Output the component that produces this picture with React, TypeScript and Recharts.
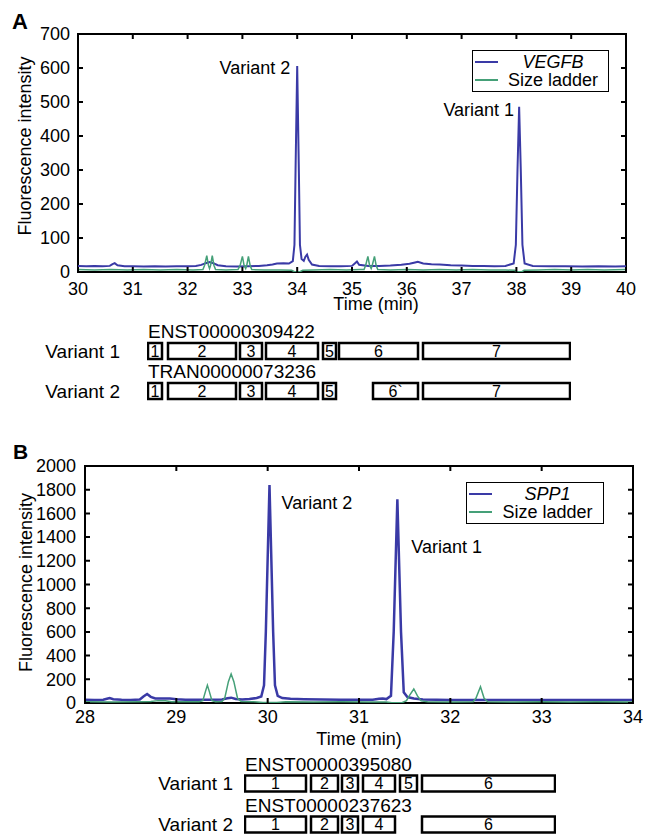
import React from 'react';
import {
  ComposedChart,
  Line,
  XAxis,
  YAxis,
  Legend,
  ReferenceDot,
  ReferenceArea,
  BarChart,
  Bar,
  LabelList
} from 'recharts';

const FONT = '"Liberation Sans", Arial, Helvetica, sans-serif';
const BLUE = '#3a3aa6';
const GREEN = '#45a078';
const FRAME = '#000';

// ---- panel A: VEGFB electropherogram, [time (min), fluorescence]
const vegfbTrace: [number, number][] = [
  [30.0, 18], [30.15, 17], [30.3, 18], [30.45, 17], [30.58, 18], [30.63, 23], [30.67, 26], [30.72, 20],
  [30.85, 17], [31.0, 17], [31.2, 16], [31.4, 17], [31.6, 16], [31.8, 17], [32.0, 17], [32.15, 18],
  [32.25, 21], [32.33, 26], [32.4, 29], [32.47, 26], [32.55, 20], [32.7, 17], [32.9, 16], [33.1, 17],
  [33.3, 18], [33.45, 20], [33.55, 22], [33.63, 25], [33.75, 26], [33.85, 25], [33.92, 32], [33.95, 80],
  [33.97, 300], [34.0, 606], [34.03, 300], [34.05, 80], [34.08, 38], [34.12, 33], [34.15, 45], [34.18, 51],
  [34.21, 36], [34.27, 22], [34.4, 18], [34.6, 17], [34.8, 17], [35.0, 18], [35.05, 25], [35.09, 31],
  [35.13, 21], [35.3, 18], [35.5, 18], [35.7, 19], [35.9, 21], [36.05, 24], [36.15, 28], [36.2, 30],
  [36.3, 25], [36.45, 23], [36.6, 22], [36.8, 20], [37.0, 19], [37.2, 18], [37.4, 18], [37.6, 17],
  [37.8, 18], [37.95, 25], [37.99, 80], [38.02, 300], [38.05, 486], [38.08, 300], [38.11, 80], [38.15, 25],
  [38.3, 18], [38.6, 17], [38.9, 17], [39.2, 16], [39.5, 17], [39.8, 16], [40.0, 17]
];
const ladderTraceA: [number, number][] = [
  [30.0, 7], [30.3, 6], [30.6, 7], [30.9, 6], [31.2, 7], [31.5, 6], [31.8, 7], [32.1, 6],
  [32.28, 7], [32.31, 20], [32.35, 48], [32.38, 20], [32.4, 10], [32.42, 20], [32.45, 48], [32.48, 20],
  [32.51, 7], [32.7, 6], [32.92, 7], [32.96, 20], [33.0, 46], [33.03, 20], [33.06, 10], [33.08, 20],
  [33.11, 46], [33.14, 20], [33.17, 7], [33.4, 6], [33.7, 6], [33.9, 5], [33.95, 1], [34.05, 1],
  [34.1, 5], [34.3, 6], [34.6, 7], [34.9, 6], [35.15, 7], [35.22, 7], [35.25, 20], [35.29, 46],
  [35.32, 20], [35.35, 10], [35.37, 20], [35.41, 46], [35.44, 20], [35.47, 7], [35.7, 6], [36.0, 7],
  [36.3, 6], [36.6, 7], [36.9, 6], [37.2, 7], [37.5, 6], [37.8, 6], [37.97, 5], [38.0, 1],
  [38.1, 1], [38.14, 5], [38.4, 6], [38.7, 7], [39.0, 6], [39.3, 7], [39.6, 6], [40.0, 7]
];
const timeTicksA = [30, 31, 32, 33, 34, 35, 36, 37, 38, 39, 40];
const intensityTicksA = [0, 100, 200, 300, 400, 500, 600, 700];
const peaksA = [
  { t: 34.0, v: 606, text: 'Variant 2' },
  { t: 38.05, v: 486, text: 'Variant 1' }
];

// VEGFB exon structure (diagram units)
const variantsA = ['Variant 1', 'Variant 2'];
const transcriptsA = ['ENST00000309422', 'TRAN00000073236'];
const exonsA1: [number, number][] = [[1, 15], [21, 89], [93, 115], [119, 171], [176, 189], [192, 271], [276, 423]];
const exonsA2: [number, number][] = [[1, 15], [21, 89], [93, 115], [119, 171], [176, 189], [226, 271], [276, 423]];
const exonNamesA1 = ['1', '2', '3', '4', '5', '6', '7'];
const exonNamesA2 = ['1', '2', '3', '4', '5', '6`', '7'];

// ---- panel B: SPP1 electropherogram
const spp1Trace: [number, number][] = [
  [28.0, 28], [28.1, 26], [28.2, 28], [28.24, 36], [28.27, 42], [28.31, 32], [28.4, 27], [28.5, 26],
  [28.6, 29], [28.64, 55], [28.68, 76], [28.72, 52], [28.77, 38], [28.85, 37], [28.93, 38], [29.0, 31],
  [29.1, 28], [29.2, 27], [29.3, 28], [29.4, 27], [29.5, 30], [29.56, 40], [29.6, 45], [29.65, 34],
  [29.72, 30], [29.8, 33], [29.88, 42], [29.93, 55], [29.96, 150], [29.98, 600], [30.02, 1840], [30.06, 600],
  [30.08, 150], [30.11, 60], [30.16, 42], [30.25, 36], [30.4, 32], [30.6, 30], [30.8, 28], [31.0, 27],
  [31.15, 28], [31.22, 35], [31.26, 38], [31.3, 33], [31.35, 60], [31.38, 600], [31.42, 1720], [31.46, 600],
  [31.49, 90], [31.53, 50], [31.6, 38], [31.7, 30], [31.85, 27], [32.0, 26], [32.2, 25], [32.4, 26],
  [32.6, 25], [32.8, 25], [33.0, 26], [33.2, 25], [33.4, 26], [33.6, 25], [33.8, 25], [34.0, 26]
];
const ladderTraceB: [number, number][] = [
  [28.0, 10], [28.3, 9], [28.6, 10], [28.72, 12], [28.8, 20], [28.88, 18], [28.95, 11], [29.1, 10],
  [29.25, 10], [29.29, 20], [29.32, 100], [29.34, 150], [29.36, 100], [29.39, 20], [29.43, 10], [29.5, 12],
  [29.53, 40], [29.57, 180], [29.6, 245], [29.63, 180], [29.67, 40], [29.71, 12], [29.85, 10], [29.95, 4],
  [30.1, 4], [30.2, 10], [30.5, 9], [30.8, 10], [31.1, 9], [31.3, 8], [31.36, 2], [31.47, 2],
  [31.52, 20], [31.55, 60], [31.6, 118], [31.64, 60], [31.68, 18], [31.75, 10], [32.0, 9], [32.25, 10],
  [32.28, 40], [32.33, 137], [32.37, 40], [32.41, 10], [32.7, 9], [33.0, 10], [33.3, 9], [33.6, 10],
  [34.0, 9]
];
const timeTicksB = [28, 29, 30, 31, 32, 33, 34];
const intensityTicksB = [0, 200, 400, 600, 800, 1000, 1200, 1400, 1600, 1800, 2000];
const peaksB = [
  { t: 30.02, v: 1840, text: 'Variant 2' },
  { t: 31.42, v: 1720, text: 'Variant 1' }
];

// SPP1 exon structure (diagram units)
const variantsB = ['Variant 1', 'Variant 2'];
const transcriptsB = ['ENST00000395080', 'ENST00000237623'];
const exonsB1: [number, number][] = [[1, 62], [67, 94], [98, 114], [119, 151], [156, 173], [178, 311]];
const exonsB2: [number, number][] = [[1, 62], [67, 94], [98, 114], [119, 151], [178, 311]];
const exonNamesB1 = ['1', '2', '3', '4', '5', '6'];
const exonNamesB2 = ['1', '2', '3', '4', '6'];

const toPoints = (arr: [number, number][]) => arr.map(([t, v]) => ({ t, v }));

// stacked segments: gap, exon, gap, exon ...
function buildRows(variants: string[], ids: string[], exonSets: [number, number][][], nameSets: string[][]) {
  const slots = Math.max(...exonSets.map(s => s.length));
  const rows = variants.map((variant, r) => {
    const row: any = { variant, id: ids[r] };
    let cursor = 0;
    for (let i = 0; i < slots; i++) {
      const ex = exonSets[r][i];
      if (ex) {
        row[`g${i}`] = ex[0] - cursor;
        row[`e${i}`] = ex[1] - ex[0];
        row[`n${i}`] = nameSets[r][i];
        cursor = ex[1];
      } else {
        row[`g${i}`] = 0;
        row[`e${i}`] = 0;
        row[`n${i}`] = '';
      }
    }
    return row;
  });
  return { rows, slots };
}

const TICK_LEN = 5;

// MATLAB-style ticks: inward marks on both sides of the box, label outside
const makeXTick = (gap: number, plotTop: number) => (props: any) => {
  const { x, y, payload } = props;
  const axisY = y - gap;
  return (
    <g>
      <path d={`M${x},${axisY}V${axisY - TICK_LEN}M${x},${plotTop}V${plotTop + TICK_LEN}`} stroke={FRAME} strokeWidth={2} fill="none" />
      <text x={x} y={y} dy="0.71em" textAnchor="middle" fill="#000" fontSize={18}>{payload.value}</text>
    </g>
  );
};

const makeYTick = (gap: number, plotRight: number) => (props: any) => {
  const { x, y, payload } = props;
  const axisX = x + gap;
  return (
    <g>
      <path d={`M${axisX},${y}H${axisX + TICK_LEN}M${plotRight},${y}H${plotRight - TICK_LEN}`} stroke={FRAME} strokeWidth={2} fill="none" />
      <text x={x} y={y} dy="0.355em" textAnchor="end" fill="#000" fontSize={18}>{payload.value}</text>
    </g>
  );
};

const LegendBox = ({ payload }: any) => {
  // gene trace first, ladder second (as in the figure)
  const items = [...(payload || [])].sort((a: any, b: any) =>
    (a.value === 'Size ladder' ? 1 : 0) - (b.value === 'Size ladder' ? 1 : 0));
  return (
    <div style={{
      border: '1.5px solid #000',
      background: '#fff',
      padding: '2px 0',
      fontSize: 18,
      lineHeight: '18px',
      color: '#000',
      fontFamily: FONT
    }}>
      {items.map((p: any, i: number) => (
        <div key={i} style={{ display: 'flex', alignItems: 'center', height: 18 }}>
          <span style={{ width: 23, height: 0, borderTop: `2px solid ${p.color}`, marginLeft: 2 }} />
          <span style={{ flex: 1, textAlign: 'center', fontStyle: p.value === 'Size ladder' ? 'normal' : 'italic', whiteSpace: 'nowrap' }}>
            {p.value}
          </span>
        </div>
      ))}
    </div>
  );
};

const TranscriptLabel = (props: any) => {
  const vb = props.viewBox || props;
  if (!props.value) return null;
  return (
    <text x={vb.x} y={vb.y - 5} fill="#000" fontSize={19} textAnchor="start">
      {props.value}
    </text>
  );
};

const Electropherogram = ({
  trace, ladder, gene, xDomain, xTicks, yDomain, yTicks, peaks, placements,
  height, margin, yAxisWidth, xAxisHeight, xTickGap, yTickGap, xLabelShift, yLabelShift,
  legendPos, traceWidth
}: any) => (
  <ComposedChart width={648} height={height} margin={margin}>
    <XAxis
      xAxisId="b" type="number" dataKey="t" domain={xDomain} ticks={xTicks} interval={0}
      allowDataOverflow height={xAxisHeight} tickSize={0} tickMargin={xTickGap}
      tick={makeXTick(xTickGap, margin.top)} axisLine={false} tickLine={false}
      label={{ value: 'Time (min)', position: 'center', dx: xLabelShift[0], dy: xLabelShift[1], fill: '#000', fontSize: 18 }}
    />
    <YAxis
      yAxisId="l" type="number" domain={yDomain} ticks={yTicks} interval={0}
      allowDataOverflow width={yAxisWidth} tickSize={0} tickMargin={yTickGap}
      tick={makeYTick(yTickGap, 648 - margin.right)} axisLine={false} tickLine={false}
      label={{ value: 'Fluorescence intensity', angle: -90, position: 'center', dx: yLabelShift[0], dy: yLabelShift[1], fill: '#000', fontSize: 18 }}
    />
    <Legend
      layout="vertical" align="center" verticalAlign="middle"
      wrapperStyle={{ left: legendPos[0], top: legendPos[1], width: legendPos[2] }}
      content={<LegendBox />}
    />
    <Line
      xAxisId="b" yAxisId="l" data={toPoints(trace)} dataKey="v" name={gene}
      type="linear" stroke={BLUE} strokeWidth={traceWidth} dot={false} isAnimationActive={false}
    />
    <Line
      xAxisId="b" yAxisId="l" data={toPoints(ladder)} dataKey="v" name="Size ladder"
      type="linear" stroke={GREEN} strokeWidth={1.5} dot={false} isAnimationActive={false}
    />
    {/* plot box */}
    <ReferenceArea
      xAxisId="b" yAxisId="l" x1={xDomain[0]} x2={xDomain[1]} y1={yDomain[0]} y2={yDomain[1]}
      fill="none" fillOpacity={0} stroke={FRAME} strokeWidth={2} strokeOpacity={1} ifOverflow="visible"
    />
    {peaks.map((p: any, i: number) => (
      <ReferenceDot
        key={p.text}
        xAxisId="b" yAxisId="l" x={p.t} y={p.v} r={0} fill="none" stroke="none"
        label={{ value: p.text, position: placements[i].position, offset: placements[i].offset, dy: placements[i].dy, fill: '#000', fontSize: 18 }}
      />
    ))}
  </ComposedChart>
);

const ExonMap = ({ data, domainMax, height, marginTop, marginRight, plotLeft, labelGap }: any) => {
  const { rows, slots } = data;
  const segs = Array.from({ length: slots }, (_, i) => i);
  return (
    <BarChart
      width={648} height={height} data={rows} layout="vertical"
      margin={{ top: marginTop, right: marginRight, left: 0, bottom: 0 }}
      barSize={16}
    >
      <XAxis type="number" domain={[0, domainMax]} hide allowDataOverflow />
      <YAxis
        type="category" dataKey="variant" width={plotLeft} tickLine={false} axisLine={false}
        tickSize={0} tickMargin={labelGap} tick={{ fill: '#000', fontSize: 19 }}
      />
      {segs.map(i => [
        <Bar key={`g${i}`} dataKey={`g${i}`} stackId="row" fill="transparent" isAnimationActive={false} />,
        <Bar key={`e${i}`} dataKey={`e${i}`} stackId="row" fill="#fff" stroke="#000" strokeWidth={2.5} isAnimationActive={false}>
          <LabelList dataKey={`n${i}`} position="center" fill="#000" fontSize={16} />
          {i === 0 && <LabelList dataKey="id" content={TranscriptLabel} />}
        </Bar>
      ])}
    </BarChart>
  );
};

export default function App() {
  const exonRowsA = buildRows(variantsA, transcriptsA, [exonsA1, exonsA2], [exonNamesA1, exonNamesA2]);
  const exonRowsB = buildRows(variantsB, transcriptsB, [exonsB1, exonsB2], [exonNamesB1, exonNamesB2]);

  return (
    <div style={{ position: 'absolute', left: 0, top: 0, width: 648, height: 834, overflow: 'hidden', background: '#fff', fontFamily: FONT }}>
      <div style={{ position: 'absolute', left: 12, top: 11, fontSize: 22, lineHeight: '22px', fontWeight: 'bold' }}>A</div>
      <div style={{ position: 'absolute', left: 0, top: 0 }}>
        <Electropherogram
          trace={vegfbTrace} ladder={ladderTraceA} gene="VEGFB"
          xDomain={[30, 40]} xTicks={timeTicksA} yDomain={[0, 700]} yTicks={intensityTicksA}
          peaks={peaksA}
          placements={[{ position: 'left', offset: 7, dy: 2 }, { position: 'left', offset: 5, dy: 3 }]}
          height={320} margin={{ top: 34, right: 22, left: 0, bottom: 0 }}
          yAxisWidth={78} xAxisHeight={48} xTickGap={10} yTickGap={8}
          xLabelShift={[24, 8]} yLabelShift={[-14, -7]}
          legendPos={[472, 50, 137]} traceWidth={2}
        />
      </div>
      <div style={{ position: 'absolute', left: 0, top: 310 }}>
        <ExonMap data={exonRowsA} domainMax={424} height={101} marginTop={21} marginRight={77} plotLeft={147} labelGap={27} />
      </div>

      <div style={{ position: 'absolute', left: 13, top: 441, fontSize: 21, lineHeight: '21px', fontWeight: 'bold' }}>B</div>
      <div style={{ position: 'absolute', left: 0, top: 420 }}>
        <Electropherogram
          trace={spp1Trace} ladder={ladderTraceB} gene="SPP1"
          xDomain={[28, 34]} xTicks={timeTicksB} yDomain={[0, 2000]} yTicks={intensityTicksB}
          peaks={peaksB}
          placements={[{ position: 'right', offset: 12, dy: 18 }, { position: 'right', offset: 14, dy: 47 }]}
          height={336} margin={{ top: 46, right: 15, left: 0, bottom: 0 }}
          yAxisWidth={85} xAxisHeight={53} xTickGap={7} yTickGap={9}
          xLabelShift={[0, 9]} yLabelShift={[-17, -2]}
          legendPos={[466, 62, 138]} traceWidth={2.5}
        />
      </div>
      <div style={{ position: 'absolute', left: 0, top: 740 }}>
        <ExonMap data={exonRowsB} domainMax={312} height={104.5} marginTop={22.5} marginRight={92} plotLeft={244} labelGap={11} />
      </div>
    </div>
  );
}
